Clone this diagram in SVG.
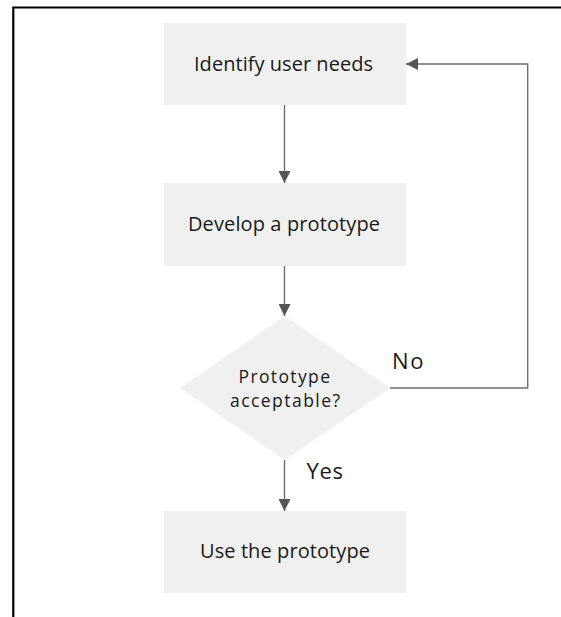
<svg xmlns="http://www.w3.org/2000/svg" width="561" height="617" viewBox="0 0 561 617">
  <style>
    .box { fill: #f0f0f0; stroke: none; }
    .lbl { font-family: "Open Sans", "Noto Sans", "Liberation Sans", sans-serif; fill: #1a1a1a; }
    .t20 { font-size: 20px; }
    .t17 { font-size: 17.5px; }
    .t22 { font-size: 22px; }
    .conn { fill: none; stroke: #6e6e6e; stroke-width: 1.4; }
  </style>
  <defs>
    <marker id="arrow" markerUnits="userSpaceOnUse" markerWidth="12" markerHeight="12" viewBox="0 0 12 12" refX="12" refY="6" orient="auto">
      <path d="M0,0 L12,6 L0,12 Z" fill="#555555"/>
    </marker>
  </defs>
  <rect x="0" y="0" width="561" height="617" fill="#ffffff"/>
  <path d="M13.3,617 V7.5 H561" fill="none" stroke="#000000" stroke-width="2.2"/>

  <g id="identify">
    <rect class="box" x="164" y="23" width="242" height="82"/>
    <text class="lbl t20" x="194" y="71" textLength="179" lengthAdjust="spacing">Identify user needs</text>
  </g>
  <g id="develop">
    <rect class="box" x="164" y="183" width="242" height="83"/>
    <text class="lbl t20" x="188" y="230.5" textLength="192" lengthAdjust="spacing">Develop a prototype</text>
  </g>
  <g id="decision">
    <polygon class="box" points="285,316 390,388 285,460 180,388"/>
    <text class="lbl t17" x="238.5" y="382.5" textLength="91.5" lengthAdjust="spacing">Prototype</text>
    <text class="lbl t17" x="230" y="406.5" textLength="110" lengthAdjust="spacing">acceptable?</text>
  </g>
  <g id="use">
    <rect class="box" x="164" y="511" width="242" height="82"/>
    <text class="lbl t20" x="200" y="558" textLength="170" lengthAdjust="spacing">Use the prototype</text>
  </g>

  <g id="connectors">
    <path class="conn" d="M284.5,105 V183" marker-end="url(#arrow)"/>
    <path class="conn" d="M284.5,266 V316" marker-end="url(#arrow)"/>
    <path class="conn" d="M284.5,460 V511" marker-end="url(#arrow)"/>
    <path class="conn" d="M390,388 H527.7 V64 H406" marker-end="url(#arrow)"/>
    <text class="lbl t22" x="392" y="369" textLength="31.5" lengthAdjust="spacing">No</text>
    <text class="lbl t22" x="306.5" y="479" textLength="36.5" lengthAdjust="spacing">Yes</text>
  </g>
</svg>
